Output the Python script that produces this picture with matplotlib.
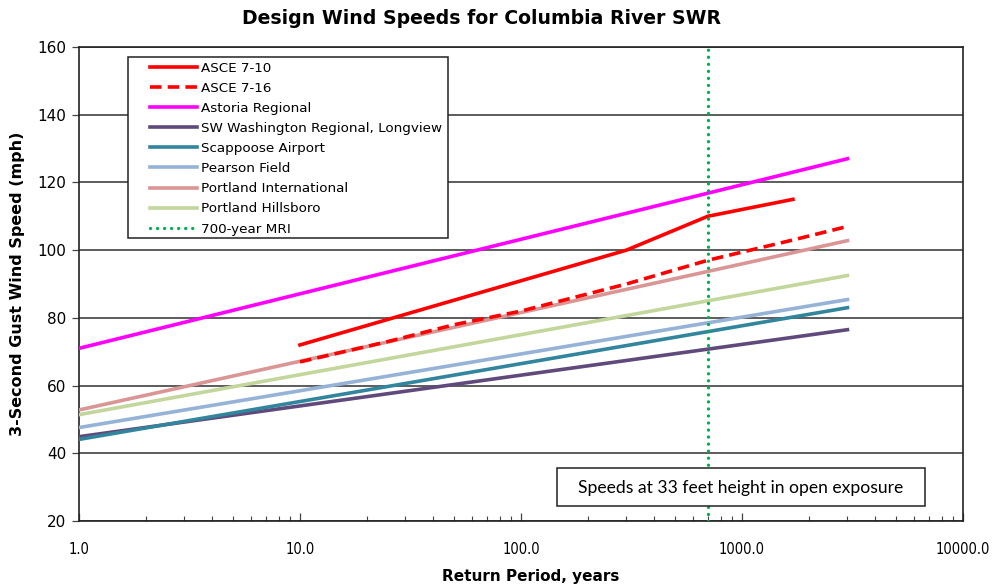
import matplotlib
matplotlib.use("Agg")
import matplotlib.pyplot as plt
from matplotlib.patches import Rectangle
from matplotlib.ticker import FixedLocator, LogLocator, NullFormatter

# Data
asce710_x = [10, 300, 700, 1700]
asce710_y = [72, 100, 110, 115]
asce716_x = [10, 25, 50, 100, 300, 700, 1700, 3000]
asce716_y = [67, 73, 78, 82, 90, 97, 103, 107]
station_x = [1, 3000]
astoria_y = [71, 127]
swwash_y = [44.9, 76.5]
scappoose_y = [44.1, 83.0]
pearson_y = [47.6, 85.4]
pdx_y = [52.8, 102.8]
hillsboro_y = [51.4, 92.5]
mri_x = 700

title = "Design Wind Speeds for Columbia River SWR"
xlabel = "Return Period, years"
ylabel = "3-Second Gust Wind Speed (mph)"
note = "Speeds at 33 feet height in open exposure"
xticks = [1, 10, 100, 1000, 10000]
xticklabels = ["1.0", "10.0", "100.0", "1000.0", "10000.0"]
yticks = [20, 40, 60, 80, 100, 120, 140, 160]

W, H = 998, 587
fig = plt.figure(figsize=(W / 100, H / 100), dpi=100)
ax = fig.add_axes([79 / W, 1 - 521 / H, (963 - 79) / W, (521 - 47) / H])

lw = 2.6
ax.plot(asce710_x, asce710_y, color="#ff0000", lw=lw, label="ASCE 7-10", zorder=5)
ax.plot(asce716_x, asce716_y, color="#ff0000", lw=lw, ls=(0, (3.2, 1.7)), label="ASCE 7-16", zorder=5)
ax.plot(station_x, astoria_y, color="#ff00ff", lw=lw, label="Astoria Regional", zorder=4)
ax.plot(station_x, swwash_y, color="#604a7b", lw=lw, label="SW Washington Regional, Longview", zorder=4)
ax.plot(station_x, scappoose_y, color="#31859c", lw=lw, label="Scappoose Airport", zorder=4)
ax.plot(station_x, pearson_y, color="#95b3d7", lw=lw, label="Pearson Field", zorder=4)
ax.plot(station_x, pdx_y, color="#d99694", lw=lw, label="Portland International", zorder=4)
ax.plot(station_x, hillsboro_y, color="#c3d69b", lw=lw, label="Portland Hillsboro", zorder=4)
ax.axvline(mri_x, color="#00b050", lw=2.4, ls=(0, (0.01, 2.1)), dash_capstyle="round",
           label="700-year MRI", zorder=6)

ax.set_xscale("log")
ax.set_xlim(1, 10000)
ax.set_ylim(20, 160)
ax.xaxis.set_major_locator(FixedLocator(xticks))
ax.set_xticklabels(xticklabels)
ax.xaxis.set_minor_locator(LogLocator(base=10, subs=range(2, 10)))
ax.xaxis.set_minor_formatter(NullFormatter())
ax.set_yticks(yticks)
ax.yaxis.grid(True, color="#303030", lw=1.1)
ax.set_axisbelow(True)
for s in ax.spines.values():
    s.set_color("#222222")
    s.set_linewidth(1.2)

ax.tick_params(axis="x", which="major", direction="in", length=6, width=0.9, color="#444444",
               labelsize=10.5, pad=15)
ax.tick_params(axis="x", which="minor", direction="in", length=3.5, width=0.8, color="#444444")
ax.tick_params(axis="y", which="major", direction="out", length=5, width=0.9, color="#444444",
               labelsize=11, pad=4)
for lab in ax.get_xticklabels():
    lab.set_fontstretch("condensed")

fig.text(481 / W, 1 - 18 / H, title, ha="center", va="center", fontsize=13.6, fontweight="bold")
fig.text(531 / W, 1 - 577 / H, xlabel, ha="center", va="center", fontsize=11, fontweight="bold")
fig.text(18 / W, 1 - 284 / H, ylabel, ha="center", va="center", rotation=90, fontsize=11.5,
         fontweight="bold")

# Legend (frame drawn separately, below the legend)
leg = ax.legend(loc="upper left", bbox_to_anchor=(150 / W, 1 - 61.5 / H), bbox_transform=fig.transFigure,
                fontsize=9.7, frameon=False, handlelength=3.5, handletextpad=0.3,
                labelspacing=0.53, borderpad=0, borderaxespad=0)
leg.set_zorder(12)
ax.add_patch(Rectangle((128 / W, 1 - 238 / H), (448 - 128) / W, (238 - 57) / H,
                       transform=fig.transFigure, facecolor="white", edgecolor="#222222",
                       lw=1.1, zorder=9, clip_on=False))

# Note box
fig.patches.append(Rectangle((557 / W, 1 - 506 / H), (925 - 557) / W, (506 - 468) / H,
                             transform=fig.transFigure, facecolor="white", edgecolor="#222222",
                             lw=1.1, zorder=10))
fig.text(741 / W, 1 - 488 / H, note, ha="center", va="center", fontsize=12.6, family="Lato", zorder=11)

fig.savefig("out.png", dpi=100)
